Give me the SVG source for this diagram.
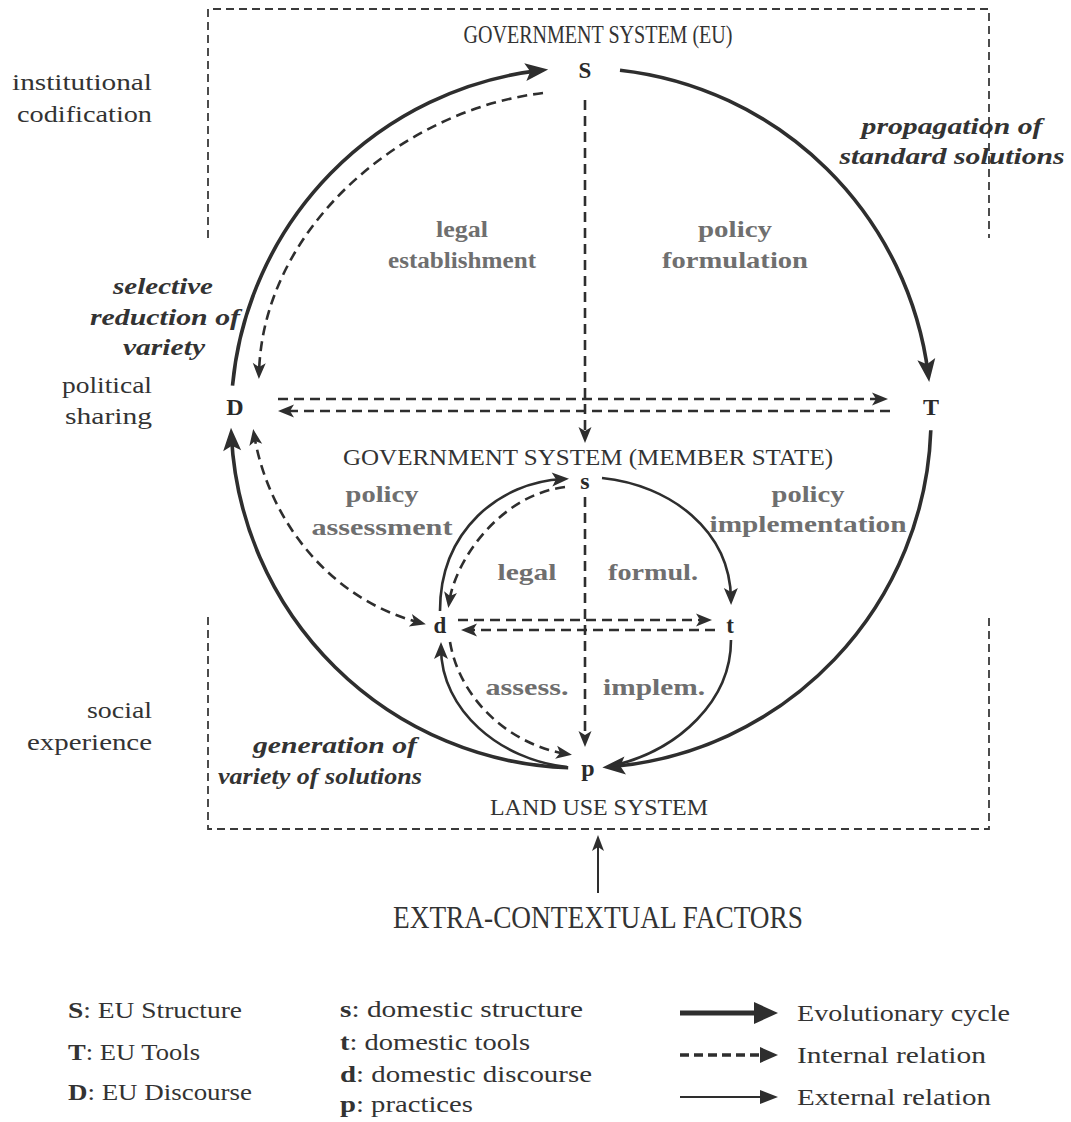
<svg xmlns="http://www.w3.org/2000/svg" width="1071" height="1122" viewBox="0 0 1071 1122">
  <style>
    text { font-family: "Liberation Serif", "DejaVu Serif", serif; fill: #333333; }
    .title { font-size: 25px; text-anchor: middle; }
    .side { font-size: 24px; text-anchor: end; }
    .proc { font-size: 24px; font-weight: bold; font-style: italic; text-anchor: middle; }
    .phase { font-size: 23px; font-weight: bold; fill: #6f6f6f; text-anchor: middle; }
    .node { font-size: 24px; font-weight: bold; text-anchor: middle; fill: #2a2a2a; }
    .leg { font-size: 23px; }
    .leg tspan.k { font-weight: bold; }
    .box { fill: none; stroke: #3a3a3a; stroke-width: 1.8; stroke-dasharray: 8 5; }
    .evo { fill: none; stroke: #2e2e2e; stroke-width: 3.6; }
    .inner { fill: none; stroke: #2e2e2e; stroke-width: 2.6; }
    .int { fill: none; stroke: #2e2e2e; stroke-width: 2.6; stroke-dasharray: 10 6; }
    .ext { fill: none; stroke: #2e2e2e; stroke-width: 2; }
  </style>
  <defs>
    <marker id="mEvo" viewBox="-30 -12 40 24" markerWidth="40" markerHeight="24" refX="-8" refY="0" markerUnits="userSpaceOnUse" orient="auto">
      <path d="M 0 0 L -23 -9 L -18 0 L -23 9 Z" fill="#2e2e2e"/>
    </marker>
    <marker id="mInner" viewBox="-30 -12 40 24" markerWidth="40" markerHeight="24" refX="-6" refY="0" markerUnits="userSpaceOnUse" orient="auto">
      <path d="M 0 0 L -17 -7 L -13 0 L -17 7 Z" fill="#2e2e2e"/>
    </marker>
    <marker id="mInt" viewBox="-30 -12 40 24" markerWidth="40" markerHeight="24" refX="-5" refY="0" markerUnits="userSpaceOnUse" orient="auto-start-reverse">
      <path d="M 0 0 L -16 -6.5 L -12 0 L -16 6.5 Z" fill="#2e2e2e"/>
    </marker>
    <marker id="mExt" viewBox="-30 -12 40 24" markerWidth="40" markerHeight="24" refX="-6" refY="0" markerUnits="userSpaceOnUse" orient="auto">
      <path d="M 0 0 L -16 -6 L -12 0 L -16 6 Z" fill="#2e2e2e"/>
    </marker>
    <marker id="mLegEvo" viewBox="-30 -14 40 28" markerWidth="40" markerHeight="28" refX="-16" refY="0" markerUnits="userSpaceOnUse" orient="auto">
      <path d="M 0 0 L -24 -11 L -24 11 Z" fill="#2e2e2e"/>
    </marker>
    <marker id="mLegInt" viewBox="-30 -12 40 24" markerWidth="40" markerHeight="24" refX="-14" refY="0" markerUnits="userSpaceOnUse" orient="auto">
      <path d="M 0 0 L -18 -8 L -18 8 Z" fill="#2e2e2e"/>
    </marker>
    <marker id="mLegExt" viewBox="-30 -12 40 24" markerWidth="40" markerHeight="24" refX="-14" refY="0" markerUnits="userSpaceOnUse" orient="auto">
      <path d="M 0 0 L -18 -7 L -18 7 Z" fill="#2e2e2e"/>
    </marker>
  </defs>

  <!-- context boxes -->
  <g id="frames">
    <path class="box" d="M 208 238 L 208 9 L 989 9 L 989 238"/>
    <path class="box" d="M 208 617 L 208 829 L 989 829 L 989 617"/>
  </g>

  <!-- side labels -->
  <g id="side-labels">
    <text class="side" x="152" y="90" textLength="140" lengthAdjust="spacingAndGlyphs">institutional</text>
    <text class="side" x="152" y="122" textLength="135" lengthAdjust="spacingAndGlyphs">codification</text>
    <text class="side" x="152" y="393" textLength="90" lengthAdjust="spacingAndGlyphs">political</text>
    <text class="side" x="152" y="424" textLength="87" lengthAdjust="spacingAndGlyphs">sharing</text>
    <text class="side" x="152" y="718" textLength="65" lengthAdjust="spacingAndGlyphs">social</text>
    <text class="side" x="152" y="750" textLength="125" lengthAdjust="spacingAndGlyphs">experience</text>
  </g>

  <!-- system titles -->
  <g id="titles">
    <text class="title" x="598" y="43" textLength="269" lengthAdjust="spacingAndGlyphs">GOVERNMENT SYSTEM (EU)</text>
    <text class="title" x="588" y="465" style="font-size:24px" textLength="490" lengthAdjust="spacingAndGlyphs">GOVERNMENT SYSTEM (MEMBER STATE)</text>
    <text class="title" x="599" y="815" style="font-size:23px" textLength="218" lengthAdjust="spacingAndGlyphs">LAND USE SYSTEM</text>
    <text class="title" x="598" y="928" style="font-size:31px" textLength="410" lengthAdjust="spacingAndGlyphs">EXTRA-CONTEXTUAL FACTORS</text>
  </g>

  <!-- process labels -->
  <g id="process-labels">
    <text class="proc" x="952" y="134" textLength="181" lengthAdjust="spacingAndGlyphs">propagation of</text>
    <text class="proc" x="952" y="164" textLength="225" lengthAdjust="spacingAndGlyphs">standard solutions</text>
    <text class="proc" x="163" y="294" textLength="100" lengthAdjust="spacingAndGlyphs">selective</text>
    <text class="proc" x="165" y="325" textLength="150" lengthAdjust="spacingAndGlyphs">reduction of</text>
    <text class="proc" x="164" y="355" textLength="82" lengthAdjust="spacingAndGlyphs">variety</text>
    <text class="proc" x="335" y="753" textLength="164" lengthAdjust="spacingAndGlyphs">generation of</text>
    <text class="proc" x="320" y="784" textLength="204" lengthAdjust="spacingAndGlyphs">variety of solutions</text>
  </g>

  <!-- phase labels -->
  <g id="phase-labels">
    <text class="phase" x="462" y="237" textLength="52" lengthAdjust="spacingAndGlyphs">legal</text>
    <text class="phase" x="462" y="268" textLength="148" lengthAdjust="spacingAndGlyphs">establishment</text>
    <text class="phase" x="735" y="237" textLength="74" lengthAdjust="spacingAndGlyphs">policy</text>
    <text class="phase" x="735" y="268" textLength="146" lengthAdjust="spacingAndGlyphs">formulation</text>
    <text class="phase" x="382" y="502" textLength="73" lengthAdjust="spacingAndGlyphs">policy</text>
    <text class="phase" x="382" y="535" textLength="141" lengthAdjust="spacingAndGlyphs">assessment</text>
    <text class="phase" x="808" y="502" textLength="73" lengthAdjust="spacingAndGlyphs">policy</text>
    <text class="phase" x="808" y="532" textLength="197" lengthAdjust="spacingAndGlyphs">implementation</text>
    <text class="phase" x="527" y="580" textLength="59" lengthAdjust="spacingAndGlyphs">legal</text>
    <text class="phase" x="653" y="580" textLength="90" lengthAdjust="spacingAndGlyphs">formul.</text>
    <text class="phase" x="527" y="695" textLength="83" lengthAdjust="spacingAndGlyphs">assess.</text>
    <text class="phase" x="654" y="695" textLength="102" lengthAdjust="spacingAndGlyphs">implem.</text>
  </g>

  <!-- nodes -->
  <g id="node-S"><text class="node" x="585" y="78" style="font-size:23px">S</text></g>
  <g id="node-T"><text class="node" x="931" y="415">T</text></g>
  <g id="node-D"><text class="node" x="235" y="415">D</text></g>
  <g id="node-s"><text class="node" x="585" y="489">s</text></g>
  <g id="node-t"><text class="node" x="730" y="633" style="font-size:23px">t</text></g>
  <g id="node-d"><text class="node" x="440" y="633" style="font-size:23px">d</text></g>
  <g id="node-p"><text class="node" x="588" y="776">p</text></g>

  <!-- connectors -->
  <g id="connectors">
    <!-- evolutionary cycle (EU) -->
    <path class="evo" d="M 232.5 385.7 A 350 350 0 0 1 540.2 70.4" marker-end="url(#mEvo)"/>
    <path class="evo" d="M 620 70.2 A 350 350 0 0 1 928.2 374.1" marker-end="url(#mEvo)"/>
    <path class="evo" d="M 930.8 430.2 A 350 350 0 0 1 610.3 766.8" marker-end="url(#mEvo)"/>
    <path class="evo" d="M 568.2 767.8 A 350 350 0 0 1 231.4 435.7" marker-end="url(#mEvo)"/>

    <!-- domestic cycle -->
    <path class="inner" d="M 440 611 C 440 530, 500 482, 563 479" marker-end="url(#mInner)"/>
    <path class="inner" d="M 602 478 C 670 485, 730 530, 731 599" marker-end="url(#mInner)"/>
    <path class="inner" d="M 731 640 C 731 700, 680 750, 612 766"/>
    <path class="inner" d="M 567 767 C 500 760, 441 710, 441 648" marker-end="url(#mInner)"/>

    <!-- internal relations -->
    <path class="int" d="M 543 93 C 400 110, 262 230, 259 374" marker-end="url(#mInt)"/>
    <path class="int" d="M 254 434 C 268 520, 330 600, 421 623" marker-start="url(#mInt)" marker-end="url(#mInt)"/>
    <path class="int" d="M 585 100 L 585 438" marker-end="url(#mInt)"/>
    <path class="int" d="M 585 497 L 585 742" marker-end="url(#mInt)"/>
    <path class="int" d="M 278 399 L 883 399" marker-end="url(#mInt)"/>
    <path class="int" d="M 890 411 L 283 411" marker-end="url(#mInt)"/>
    <path class="int" d="M 458 620 L 707 620" marker-end="url(#mInt)"/>
    <path class="int" d="M 715 630 L 466 630" marker-end="url(#mInt)"/>
    <path class="int" d="M 565 487 C 500 495, 455 560, 449 603" marker-end="url(#mInt)"/>
    <path class="int" d="M 450 642 C 460 700, 510 745, 567 754" marker-end="url(#mInt)"/>

    <!-- external relation -->
    <path class="ext" d="M 598 893 L 598 841" marker-end="url(#mExt)"/>
  </g>

  <!-- legend -->
  <g id="legend">
    <text class="leg" x="68" y="1018" textLength="174" lengthAdjust="spacingAndGlyphs"><tspan class="k">S</tspan>: EU Structure</text>
    <text class="leg" x="68" y="1060" textLength="132" lengthAdjust="spacingAndGlyphs"><tspan class="k">T</tspan>: EU Tools</text>
    <text class="leg" x="68" y="1100" textLength="184" lengthAdjust="spacingAndGlyphs"><tspan class="k">D</tspan>: EU Discourse</text>

    <text class="leg" x="340" y="1017" textLength="243" lengthAdjust="spacingAndGlyphs"><tspan class="k">s</tspan>: domestic structure</text>
    <text class="leg" x="340" y="1050" textLength="190" lengthAdjust="spacingAndGlyphs"><tspan class="k">t</tspan>: domestic tools</text>
    <text class="leg" x="340" y="1082" textLength="252" lengthAdjust="spacingAndGlyphs"><tspan class="k">d</tspan>: domestic discourse</text>
    <text class="leg" x="340" y="1112" textLength="133" lengthAdjust="spacingAndGlyphs"><tspan class="k">p</tspan>: practices</text>

    <path d="M 680 1013 L 762 1013" stroke="#2e2e2e" stroke-width="5" fill="none" marker-end="url(#mLegEvo)"/>
    <path d="M 680 1055 L 764 1055" stroke="#2e2e2e" stroke-width="3.5" stroke-dasharray="9 5" fill="none" marker-end="url(#mLegInt)"/>
    <path d="M 680 1097 L 764 1097" stroke="#2e2e2e" stroke-width="2" fill="none" marker-end="url(#mLegExt)"/>

    <text class="leg" x="797" y="1021" textLength="213" lengthAdjust="spacingAndGlyphs">Evolutionary cycle</text>
    <text class="leg" x="797" y="1063" textLength="189" lengthAdjust="spacingAndGlyphs">Internal relation</text>
    <text class="leg" x="797" y="1105" textLength="194" lengthAdjust="spacingAndGlyphs">External relation</text>
  </g>
</svg>
